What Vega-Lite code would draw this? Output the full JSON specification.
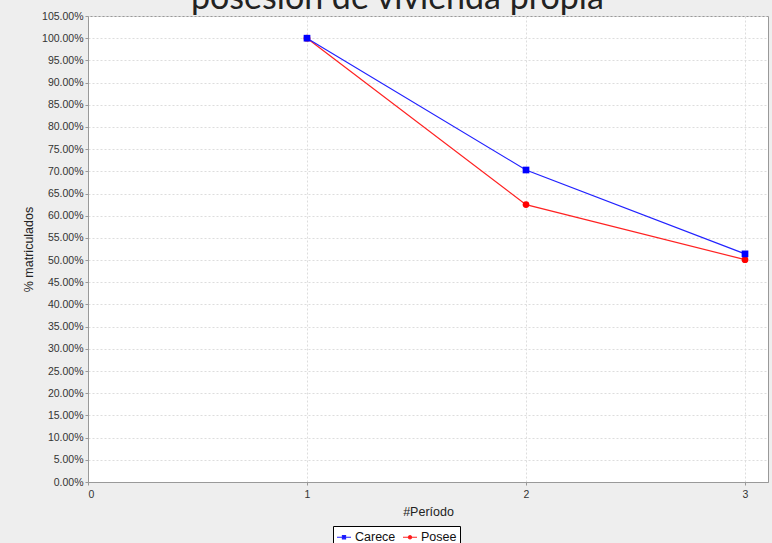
{
  "$schema": "https://vega.github.io/schema/vega-lite/v6.json",
  "width": 680,
  "height": 466,
  "autosize": {"type": "none"},
  "padding": {"left": 88, "top": 16, "right": 4, "bottom": 61},
  "background": "#eeeeee",
  "title": {
    "text": "posesión de vivienda propia",
    "font": "Lato",
    "fontSize": 34,
    "fontWeight": "normal",
    "color": "#222222",
    "anchor": "start",
    "frame": "group",
    "dx": 103,
    "dy": 9
  },
  "config": {
    "view": {"stroke": "#999999", "fill": "white"},
    "axis": {
      "labelFont": "Liberation Sans",
      "labelFontSize": 10.5,
      "labelColor": "#333333",
      "titleFont": "Liberation Sans",
      "titleFontSize": 12.5,
      "titleFontWeight": "normal",
      "titleColor": "#222222",
      "domainColor": "#999999",
      "tickColor": "#999999",
      "tickSize": 3,
      "gridColor": "#dddddd",
      "gridDash": [2, 2]
    }
  },
  "data": {
    "values": [
      {"periodo": 1, "pct": 1.0, "serie": "Posee"},
      {"periodo": 2, "pct": 0.625, "serie": "Posee"},
      {"periodo": 3, "pct": 0.501, "serie": "Posee"},
      {"periodo": 1, "pct": 1.0, "serie": "Carece"},
      {"periodo": 2, "pct": 0.703, "serie": "Carece"},
      {"periodo": 3, "pct": 0.514, "serie": "Carece"}
    ]
  },
  "encoding": {
    "x": {
      "field": "periodo",
      "type": "quantitative",
      "title": "#Período",
      "scale": {"domain": [0, 3.105], "nice": false},
      "axis": {"values": [0, 1, 2, 3], "format": "d", "titlePadding": 6, "labelPadding": 4}
    },
    "y": {
      "field": "pct",
      "type": "quantitative",
      "title": "% matriculados",
      "scale": {"domain": [0, 1.05], "nice": false},
      "axis": {
        "values": [0, 0.05, 0.1, 0.15, 0.2, 0.25, 0.3, 0.35, 0.4, 0.45, 0.5, 0.55, 0.6, 0.65, 0.7, 0.75, 0.8, 0.85, 0.9, 0.95, 1.0, 1.05],
        "format": ".2%",
        "titlePadding": 6
      }
    },
    "color": {
      "field": "serie",
      "type": "nominal",
      "scale": {"domain": ["Carece", "Posee"], "range": ["#2222ff", "#ff2222"]},
      "legend": {
        "title": null,
        "orient": "none",
        "legendX": 245,
        "legendY": 510,
        "direction": "horizontal",
        "strokeColor": "black",
        "fillColor": "white",
        "padding": 3,
        "labelFont": "Liberation Sans",
        "labelFontSize": 12.5,
        "labelColor": "#111111",
        "labelOffset": 3,
        "columnPadding": 4,
        "symbolSize": 196,
        "symbolStrokeWidth": 1.2,
        "encode": {
          "symbols": {
            "update": {
              "shape": {"signal": "datum.value === 'Carece' ? 'M-1,0H1M-0.22,-0.22H0.22V0.22H-0.22Z' : 'M-1,0H1M0.23,0A0.23,0.23,0,1,1,-0.23,0A0.23,0.23,0,1,1,0.23,0Z'"},
              "fill": {"signal": "datum.value === 'Carece' ? '#0000ff' : '#ff0000'"},
              "stroke": {"signal": "datum.value === 'Carece' ? '#0000ff' : '#ff0000'"}
            }
          }
        }
      }
    }
  },
  "layer": [
    {"mark": {"type": "line", "strokeWidth": 1.2}},
    {
      "mark": {"type": "point", "filled": true, "opacity": 1},
      "encoding": {
        "shape": {
          "field": "serie",
          "type": "nominal",
          "scale": {"domain": ["Carece", "Posee"], "range": ["square", "circle"]},
          "legend": null
        },
        "size": {"value": 45},
        "color": {
          "field": "serie",
          "type": "nominal",
          "scale": {"domain": ["Carece", "Posee"], "range": ["#0000ff", "#ff0000"]},
          "legend": null
        }
      }
    }
  ],
  "resolve": {"scale": {"color": "independent"}}
}
